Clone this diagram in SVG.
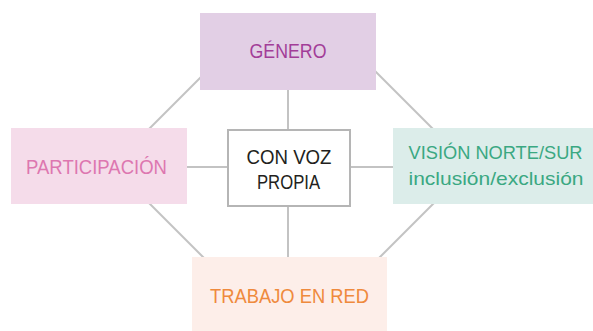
<svg xmlns="http://www.w3.org/2000/svg" width="593" height="331" viewBox="0 0 593 331">
<style>
.ln{stroke:#c3c3c3;stroke-width:2;fill:none}
.t{font-family:"Liberation Sans",Arial,sans-serif;font-size:21px;text-anchor:middle}
.s{font-size:19px}
</style>
<rect width="593" height="331" fill="#ffffff"/>
<g id="connectors">
<line class="ln" x1="140" y1="138" x2="210" y2="68"/>
<line class="ln" x1="366" y1="62" x2="442" y2="138"/>
<line class="ln" x1="140" y1="194" x2="213" y2="267"/>
<line class="ln" x1="443" y1="194" x2="368" y2="269"/>
<line class="ln" x1="288" y1="80" x2="288" y2="267"/>
<line class="ln" x1="177" y1="167" x2="403" y2="167"/>
</g>
<g id="genero">
<rect x="200" y="13" width="176" height="77" fill="#e2cfe5"/>
<text class="t" x="288" y="58" fill="#a23d98" textLength="77" lengthAdjust="spacingAndGlyphs">GÉNERO</text>
</g>
<g id="participacion">
<rect x="11" y="128" width="176" height="76" fill="#f5dcea"/>
<text class="t" x="96.5" y="174" fill="#dd77b0" textLength="141" lengthAdjust="spacingAndGlyphs">PARTICIPACIÓN</text>
</g>
<g id="centro">
<rect x="228" y="130" width="122" height="76" fill="#ffffff" stroke="#b5b5b5" stroke-width="2"/>
<text class="t" x="289" y="164" fill="#231f20" textLength="85" lengthAdjust="spacingAndGlyphs">CON VOZ</text>
<text class="t" x="288.5" y="189" fill="#231f20" textLength="63" lengthAdjust="spacingAndGlyphs">PROPIA</text>
</g>
<g id="vision">
<rect x="393" y="128" width="200" height="76" fill="#dcedea"/>
<text class="t s" x="495.5" y="159" fill="#3aa882" textLength="174" lengthAdjust="spacingAndGlyphs">VISIÓN NORTE/SUR</text>
<text class="t s" x="496" y="185" fill="#3aa882" textLength="175" lengthAdjust="spacingAndGlyphs">inclusión/exclusión</text>
</g>
<g id="trabajo">
<rect x="192" y="257" width="195" height="74" fill="#fdeee9"/>
<text class="t" x="289.5" y="303" fill="#ef8a3d" textLength="159" lengthAdjust="spacingAndGlyphs">TRABAJO EN RED</text>
</g>
</svg>
